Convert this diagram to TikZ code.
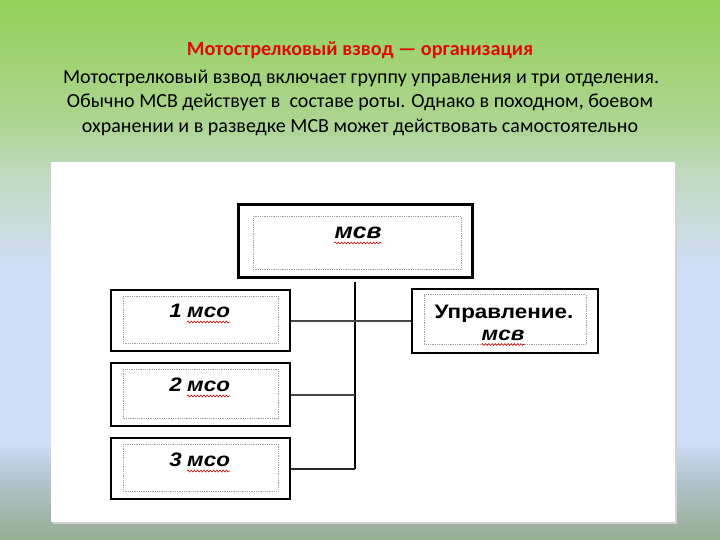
\documentclass[tikz,border=0pt]{standalone}
\usepackage{fontspec}
\setmainfont{Carlito}
\newfontfamily\boxfont[FakeStretch=1.15]{Liberation Sans}
\usetikzlibrary{calc,decorations.pathmorphing}
\definecolor{bgA}{RGB}{148,208,88}
\definecolor{bgB}{RGB}{175,213,150}
\definecolor{bgC}{RGB}{190,218,190}
\definecolor{bgD}{RGB}{205,220,230}
\definecolor{bgE}{RGB}{208,222,250}
\definecolor{bgF}{RGB}{178,196,205}
\definecolor{bgG}{RGB}{150,172,145}
\definecolor{titlered}{RGB}{225,10,10}
\tikzset{
  outerbox/.style={draw=black, line width=2pt, fill=white, minimum width=#1, inner sep=0pt},
  innerbox/.style={draw=gray!75, densely dotted, line width=0.8pt},
  boxtxt/.style={inner sep=0pt, font=\boxfont\bfseries\itshape\fontsize{19.5}{20}\selectfont},
  bigtxt/.style={inner sep=0pt, font=\boxfont\bfseries\itshape\fontsize{21.5}{22}\selectfont},
  uprtxt/.style={inner sep=0pt, font=\boxfont\bfseries\fontsize{19.5}{20}\selectfont},
  squig/.style={draw=red!85!black, line width=0.55pt, decorate, decoration={snake, segment length=3.2pt, amplitude=1pt}},
  trunk/.style={draw=black, line width=2.6pt},
  branch/.style={draw=gray!55!black, line width=2pt},
  textline/.style={inner sep=0pt, anchor=base, font=\fontsize{20}{24}\selectfont},
  titleline/.style={inner sep=0pt, anchor=base, font=\bfseries\fontsize{20.2}{23}\selectfont}
}
\begin{document}
\begin{tikzpicture}[x=1pt,y=-1pt]
\useasboundingbox (0,0) rectangle (720,540);
% background
\fill[top color=bgA, bottom color=bgB] (0,0) rectangle (720,131);
\fill[top color=bgB, bottom color=bgC] (0,130) rectangle (720,171);
\fill[top color=bgC, bottom color=bgD] (0,170) rectangle (720,241);
\fill[top color=bgD, bottom color=bgE] (0,240) rectangle (720,276);
\fill[bgE] (0,275) rectangle (720,441);
\fill[top color=bgE, bottom color=bgF] (0,440) rectangle (720,481);
\fill[top color=bgF, bottom color=bgG] (0,480) rectangle (720,540);
% panel
\fill[gray!35] (53,164) rectangle (677,524);
\fill[white] (51,162) rectangle (675,522);
% heading
\node[titleline, text=titlered] (title) at (360,56) {Мотострелковый взвод — организация};
\node[textline] (l1) at (361,84) {Мотострелковый взвод включает группу управления и три отделения.};
\node[textline] (l2) at (360,108) {Обычно МСВ действует в\ \ составе роты. Однако в походном, боевом};
\node[textline] (l3) at (360,133) {охранении и в разведке МСВ может действовать самостоятельно};
% boxes
\node[outerbox=234pt, minimum height=72pt, line width=3pt] (msv) at (355,241) {};
\node[outerbox=179pt, minimum height=61pt] (s1) at (200.5,320.5) {};
\node[outerbox=179pt, minimum height=63pt] (s2) at (200.5,394.5) {};
\node[outerbox=179pt, minimum height=61pt] (s3) at (200.5,468.5) {};
\node[outerbox=186pt, minimum height=64pt] (upr) at (505,320.5) {};
% inner dotted frames
\draw[innerbox] ($(msv.north west)+(17,13)$) rectangle ($(msv.south east)+(-12,-9)$);
\foreach \b in {s1,s2,s3,upr}
  \draw[innerbox] ($(\b.north west)+(13,7)$) rectangle ($(\b.south east)+(-13,-9)$);
% connectors
\coordinate (tk) at ([yshift=-3pt]msv.south);
\draw[trunk] (tk) -- (tk |- s3.east);
\draw[branch] (s1.east) -- (upr.west);
\draw[branch] (s2.east) -- (s2.east -| tk);
\draw[branch, draw=black!85] (s3.east) -- (s3.east -| tk);
% texts
\node[bigtxt, anchor=base] (wmsv) at (358,238) {мсв};
\draw[squig] ([yshift=-5pt]wmsv.base west) -- ([yshift=-5pt]wmsv.base east);
\node[boxtxt, anchor=base west] (w1) at (187,317) {мсо};
\node[boxtxt, anchor=base east] (n1) at (182,317) {1};
\draw[squig] ([yshift=-5pt]w1.base west) -- ([yshift=-5pt]w1.base east);
\node[boxtxt, anchor=base west] (w2) at (187,391) {мсо};
\node[boxtxt, anchor=base east] (n2) at (182,391) {2};
\draw[squig] ([yshift=-5pt]w2.base west) -- ([yshift=-5pt]w2.base east);
\node[boxtxt, anchor=base west] (w3) at (187,466) {мсо};
\node[boxtxt, anchor=base east] (n3) at (182,466) {3};
\draw[squig] ([yshift=-5pt]w3.base west) -- ([yshift=-5pt]w3.base east);
\node[uprtxt, anchor=base] (ut) at (504,318) {Управление.};
\node[boxtxt, anchor=base] (um) at (503,340) {мсв};
\draw[squig] ([yshift=-4.5pt]um.base west) -- ([yshift=-4.5pt]um.base east);
\end{tikzpicture}
\end{document}
